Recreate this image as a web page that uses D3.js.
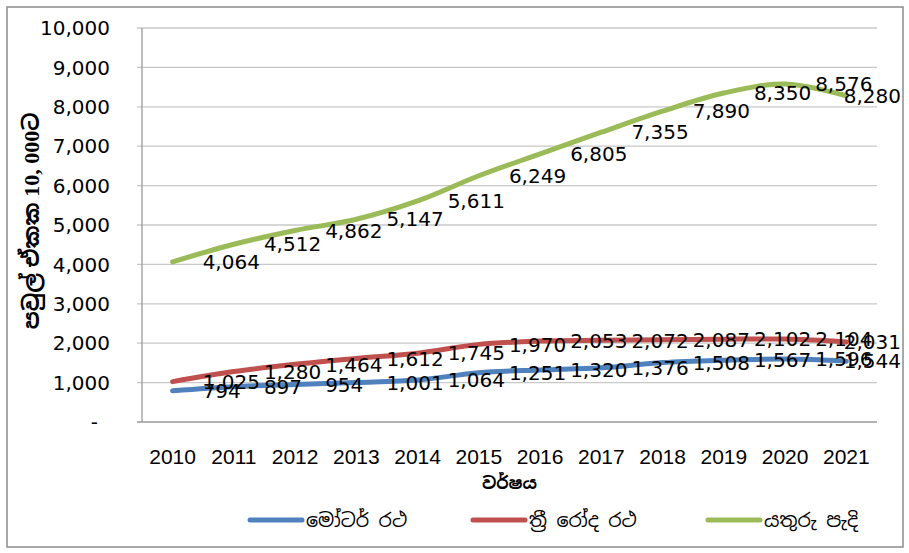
<!DOCTYPE html>
<html>
<head>
<meta charset="utf-8">
<script src="https://cdn.jsdelivr.net/npm/d3@7"></script>
<style>
  body { margin: 0; background: #fff; }
  svg { display: block; }
</style>
</head>
<body>
<div class="canva"></div>
<script>
var width = 909;
var height = 553;

// data
const years = ['2010', '2011', '2012', '2013', '2014', '2015', '2016', '2017', '2018', '2019', '2020', '2021'];
const motorCars = [794, 897, 954, 1001, 1064, 1251, 1320, 1376, 1508, 1567, 1596, 1544];
const threeWheelers = [1025, 1280, 1464, 1612, 1745, 1970, 2053, 2072, 2087, 2102, 2104, 2031];
const motorcycles = [4064, 4512, 4862, 5147, 5611, 6249, 6805, 7355, 7890, 8350, 8576, 8280];
const seriesNames = ['මෝටර් රථ', 'ත්‍රී රෝද  රථ', 'යතුරු පැදි'];
const yTicks = [0, 1000, 2000, 3000, 4000, 5000, 6000, 7000, 8000, 9000, 10000];

const colors = ['#4F81BD', '#C0504D', '#9BBB59'];
const series = [motorCars, threeWheelers, motorcycles];

const numFont = '"DejaVu Sans", sans-serif';
const sinFont = '"Noto Sans Sinhala", "Iskoola Pota", "Noto Sans", sans-serif';

const svg = d3.select('.canva').append('svg')
    .attr('width', width)
    .attr('height', height);

// outer chart border
svg.append('rect')
    .attr('x', 7).attr('y', 7)
    .attr('width', 896).attr('height', 540)
    .attr('fill', '#fff')
    .attr('stroke', '#8c8c8c')
    .attr('stroke-width', 1.5);

const plot = { left: 142, right: 877, top: 28, bottom: 422 };

const x = d3.scaleBand()
    .domain(years)
    .range([plot.left, plot.right]);

const y = d3.scaleLinear()
    .domain([0, 10000])
    .range([plot.bottom, plot.top]);

const fmt = d3.format(',');

// gridlines
svg.append('g')
  .selectAll('line')
  .data(yTicks.filter(d => d > 0))
  .enter().append('line')
    .attr('x1', plot.left - 5)
    .attr('x2', plot.right)
    .attr('y1', d => y(d))
    .attr('y2', d => y(d))
    .attr('stroke', '#c8c8c8')
    .attr('stroke-width', 1.3);

// axes lines
svg.append('line')
    .attr('x1', plot.left).attr('x2', plot.left)
    .attr('y1', plot.top).attr('y2', plot.bottom)
    .attr('stroke', '#999').attr('stroke-width', 1.3);
svg.append('line')
    .attr('x1', plot.left - 5).attr('x2', plot.right)
    .attr('y1', plot.bottom).attr('y2', plot.bottom)
    .attr('stroke', '#999').attr('stroke-width', 1.3);

// y tick labels
svg.append('g')
  .selectAll('text')
  .data(yTicks)
  .enter().append('text')
    .attr('x', d => d === 0 ? 98 : 110)
    .attr('y', d => y(d))
    .attr('dy', '0.36em')
    .attr('text-anchor', 'end')
    .style('font-family', numFont)
    .style('font-size', '20px')
    .attr('fill', '#000')
    .text(d => d === 0 ? '-' : fmt(d));

// x tick labels
svg.append('g')
  .selectAll('text')
  .data(years)
  .enter().append('text')
    .attr('x', d => x(d) + x.bandwidth() / 2)
    .attr('y', 464)
    .attr('text-anchor', 'middle')
    .style('font-family', '"Liberation Sans Narrow", "Liberation Sans", sans-serif')
    .style('font-size', '21px')
    .attr('fill', '#000')
    .text(d => d);

// axis titles
svg.append('text')
    .attr('x', (plot.left + plot.right) / 2)
    .attr('y', 489)
    .attr('text-anchor', 'middle')
    .style('font-family', sinFont)
    .style('font-size', '17px')
    .style('font-weight', 'bold')
    .text('වර්ෂය');

svg.append('text')
    .attr('transform', 'translate(39,' + ((plot.top + plot.bottom) / 2 - 4) + ') rotate(-90)')
    .attr('text-anchor', 'middle')
    .style('font-family', '"Liberation Serif", ' + sinFont)
    .style('font-size', '22px')
    .style('font-weight', 'bold')
    .text('පවුල් ඒකක 10, 000ට');

// lines
const line = d3.line()
    .x((d, i) => x(years[i]) + x.bandwidth() / 2)
    .y(d => y(d))
    .curve(d3.curveCatmullRom.alpha(0.5));

svg.append('g')
  .selectAll('path')
  .data(series)
  .enter().append('path')
    .attr('d', d => line(d))
    .attr('fill', 'none')
    .attr('stroke', (d, i) => colors[i])
    .attr('stroke-width', 5)
    .attr('stroke-linecap', 'round')
    .attr('stroke-linejoin', 'round');

// data labels, to the right of each point, pushed back inside the chart if they spill over
const labelMax = 901;
series.forEach(function(s) {
  svg.append('g')
    .selectAll('text')
    .data(s)
    .enter().append('text')
      .attr('x', (d, i) => x(years[i]) + x.bandwidth() / 2 + 30)
      .attr('y', d => y(d))
      .attr('dy', '0.36em')
      .style('font-family', numFont)
      .style('font-size', '20px')
      .attr('fill', '#000')
      .text(d => fmt(d))
      .each(function() {
        const t = d3.select(this);
        const w = this.getComputedTextLength();
        const x0 = +t.attr('x');
        if (x0 + w > labelMax) t.attr('x', labelMax - w);
      });
});

// legend
const legendX = [248, 471, 706];
const legend = svg.append('g')
  .selectAll('g')
  .data(seriesNames)
  .enter().append('g')
    .attr('transform', (d, i) => 'translate(' + legendX[i] + ',520)');

legend.append('line')
    .attr('x1', 2).attr('x2', 54)
    .attr('y1', 0).attr('y2', 0)
    .attr('stroke', (d, i) => colors[i])
    .attr('stroke-width', 5)
    .attr('stroke-linecap', 'round');

legend.append('text')
    .attr('x', 58)
    .attr('y', 0)
    .attr('dy', '0.35em')
    .style('font-family', sinFont)
    .style('font-size', '19px')
    .attr('fill', '#000')
    .text(d => d);
</script>
</body>
</html>
